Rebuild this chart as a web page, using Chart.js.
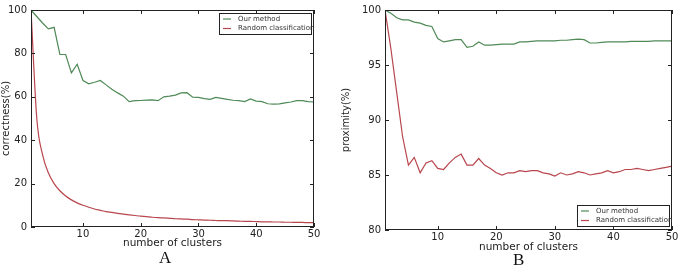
<!DOCTYPE html>
<html lang="en">
<head>
<meta charset="UTF-8" />
<title>Correctness and proximity vs number of clusters</title>
<script src="https://cdn.jsdelivr.net/npm/chart.js"></script>
<style>
  body { margin: 0; background: #fff; width: 681px; height: 268px; position: relative; overflow: hidden; }
  #wrapA { position: absolute; left: 0; top: 0; width: 340px; height: 250px; }
  #wrapB { position: absolute; left: 340px; top: 0; width: 341px; height: 254px; }
  .panel { position: absolute; font-family: "Liberation Serif", "DejaVu Serif", serif; font-size: 17px; color: #111; }
</style>
</head>
<body>
<div id="wrapA"><canvas id="chartA"></canvas></div>
<div id="wrapB"><canvas id="chartB"></canvas></div>
<div class="panel" style="left:159px; top:248px;">A</div>
<div class="panel" style="left:513px; top:250px;">B</div>
<script>
// data
const clusters = [];
for (let k = 1; k <= 50; k++) clusters.push(k);

const correctnessOurs = [100, 97, 94, 91.3, 92, 79.5, 79.5, 71, 75, 67.5,
  66, 66.7, 67.5, 65.5, 63.5, 61.8, 60.3, 57.8, 58.2, 58.3,
  58.5, 58.6, 58.2, 60, 60.3, 60.8, 61.8, 61.9, 59.8, 59.7,
  59.2, 58.8, 59.7, 59.3, 58.8, 58.4, 58.2, 57.8, 59, 58,
  57.8, 56.8, 56.6, 56.7, 57.2, 57.6, 58.2, 58.2, 57.8, 57.6];
const correctnessRandom = [100, 50, 33.3, 25, 20, 16.7, 14.3, 12.5, 11.1, 10,
  9.1, 8.3, 7.7, 7.1, 6.7, 6.3, 5.9, 5.6, 5.3, 5,
  4.8, 4.5, 4.3, 4.2, 4, 3.8, 3.7, 3.6, 3.4, 3.3,
  3.2, 3.1, 3, 2.9, 2.9, 2.8, 2.7, 2.6, 2.6, 2.5,
  2.4, 2.4, 2.3, 2.3, 2.2, 2.2, 2.1, 2.1, 2, 2];
const proximityOurs = [100, 99.7, 99.3, 99.1, 99.1, 98.9, 98.8, 98.6, 98.5, 97.4,
  97.1, 97.2, 97.3, 97.3, 96.6, 96.7, 97.1, 96.8, 96.8, 96.85,
  96.9, 96.9, 96.9, 97.1, 97.1, 97.15, 97.2, 97.2, 97.2, 97.2,
  97.25, 97.25, 97.3, 97.35, 97.3, 97.0, 97.0, 97.05, 97.1, 97.1,
  97.1, 97.1, 97.15, 97.15, 97.15, 97.15, 97.2, 97.2, 97.2, 97.2];
const proximityRandom = [100, 96.5, 92.5, 88.5, 85.9, 86.6, 85.2, 86.1, 86.3, 85.6,
  85.5, 86.1, 86.6, 86.9, 85.9, 85.9, 86.5, 85.9, 85.6, 85.2,
  85.0, 85.2, 85.2, 85.4, 85.3, 85.4, 85.4, 85.2, 85.1, 84.9,
  85.2, 85.0, 85.1, 85.3, 85.2, 85.0, 85.1, 85.2, 85.4, 85.2,
  85.3, 85.5, 85.5, 85.6, 85.5, 85.4, 85.5, 85.6, 85.7, 85.8];

const xTicks = [10, 20, 30, 40, 50];
const yTicksA = [0, 20, 40, 60, 80, 100];
const yTicksB = [80, 85, 90, 95, 100];
const seriesNames = ['Our method', 'Random classification'];

const GREEN = '#4f8a57';
const RED = '#b8464d';
const FONT = '"DejaVu Sans", sans-serif';

// frame + inward ticks like matplotlib classic style
const frameTicks = {
  id: 'frameTicks',
  afterDraw(chart) {
    const { ctx, chartArea: a, scales } = chart;
    ctx.save();
    ctx.strokeStyle = '#222';
    ctx.lineWidth = 1;
    ctx.strokeRect(a.left + 0.5, a.top + 0.5, a.right - a.left - 1, a.bottom - a.top - 1);
    const len = 4;
    ctx.beginPath();
    scales.x.ticks.forEach(t => {
      const px = Math.round(scales.x.getPixelForValue(t.value)) + 0.5;
      ctx.moveTo(px, a.bottom); ctx.lineTo(px, a.bottom - len);
      ctx.moveTo(px, a.top); ctx.lineTo(px, a.top + len);
    });
    scales.y.ticks.forEach(t => {
      const py = Math.round(scales.y.getPixelForValue(t.value)) + 0.5;
      ctx.moveTo(a.left, py); ctx.lineTo(a.left + len, py);
      ctx.moveTo(a.right, py); ctx.lineTo(a.right - len, py);
    });
    ctx.stroke();
    ctx.restore();
  }
};

// legend box drawn inside the plot area
function boxLegend(where) {
  return {
    id: 'boxLegend',
    afterDraw(chart) {
      const { ctx, chartArea: a } = chart;
      const w = 92, h = 21;
      const x0 = a.right - 3 - w;
      const y0 = where === 'top' ? a.top + 3 : a.bottom - 4 - h;
      ctx.save();
      ctx.fillStyle = '#fff';
      ctx.fillRect(x0, y0, w, h);
      ctx.strokeStyle = '#222';
      ctx.lineWidth = 1;
      ctx.strokeRect(x0 + 0.5, y0 + 0.5, w, h);
      ctx.font = '7px ' + FONT;
      ctx.textBaseline = 'middle';
      chart.data.datasets.forEach((ds, i) => {
        const yy = y0 + 6 + i * 9.5;
        ctx.strokeStyle = ds.borderColor;
        ctx.lineWidth = 1.2;
        ctx.beginPath();
        ctx.moveTo(x0 + 4, yy); ctx.lineTo(x0 + 12, yy);
        ctx.stroke();
        ctx.fillStyle = '#333';
        ctx.fillText(ds.label, x0 + 19, yy);
      });
      ctx.restore();
    }
  };
}

function makeChart(id, dataOurs, dataRandom, yMin, yTicks, yTitle, pad, yWidth, xHeight, legendWhere, smoothRandom) {
  const toPts = arr => arr.map((v, i) => ({ x: clusters[i], y: v }));
  return new Chart(document.getElementById(id), {
    type: 'line',
    data: {
      datasets: [
        { label: seriesNames[0], data: toPts(dataOurs), borderColor: GREEN, borderWidth: 1.2, pointRadius: 0, tension: 0, fill: false },
        { label: seriesNames[1], data: toPts(dataRandom), borderColor: RED, borderWidth: 1.2, pointRadius: 0,
          cubicInterpolationMode: smoothRandom ? 'monotone' : 'default', tension: 0, fill: false }
      ]
    },
    options: {
      responsive: true,
      maintainAspectRatio: false,
      animation: false,
      layout: { padding: pad },
      plugins: { legend: { display: false }, tooltip: { enabled: false } },
      scales: {
        x: {
          type: 'linear', min: 1, max: 50,
          afterBuildTicks: s => { s.ticks = xTicks.map(v => ({ value: v })); },
          afterFit: s => { s.height = xHeight; },
          grid: { display: false, drawTicks: false },
          border: { display: false },
          ticks: { color: '#222', font: { family: FONT, size: 10 }, padding: 1, maxRotation: 0 },
          title: { display: true, text: 'number of clusters', color: '#222', font: { family: FONT, size: 10.5 }, padding: 0 }
        },
        y: {
          type: 'linear', min: yMin, max: 100,
          afterBuildTicks: s => { s.ticks = yTicks.map(v => ({ value: v })); },
          afterFit: s => { s.width = yWidth; },
          grid: { display: false, drawTicks: false },
          border: { display: false },
          ticks: { color: '#222', font: { family: FONT, size: 10 }, padding: 4 },
          title: { display: true, text: yTitle, color: '#222', font: { family: FONT, size: 10 }, padding: 0 }
        }
      }
    },
    plugins: [frameTicks, boxLegend(legendWhere)]
  });
}

makeChart('chartA', correctnessOurs, correctnessRandom, 0, yTicksA, 'correctness(%)',
  { top: 8, right: 26, left: 0, bottom: 0 }, 31, 23, 'top', true);
makeChart('chartB', proximityOurs, proximityRandom, 80, yTicksB, 'proximity(%)',
  { top: 8, right: 9, left: 0, bottom: 0 }, 45, 24, 'bottom', false);
</script>
</body>
</html>
